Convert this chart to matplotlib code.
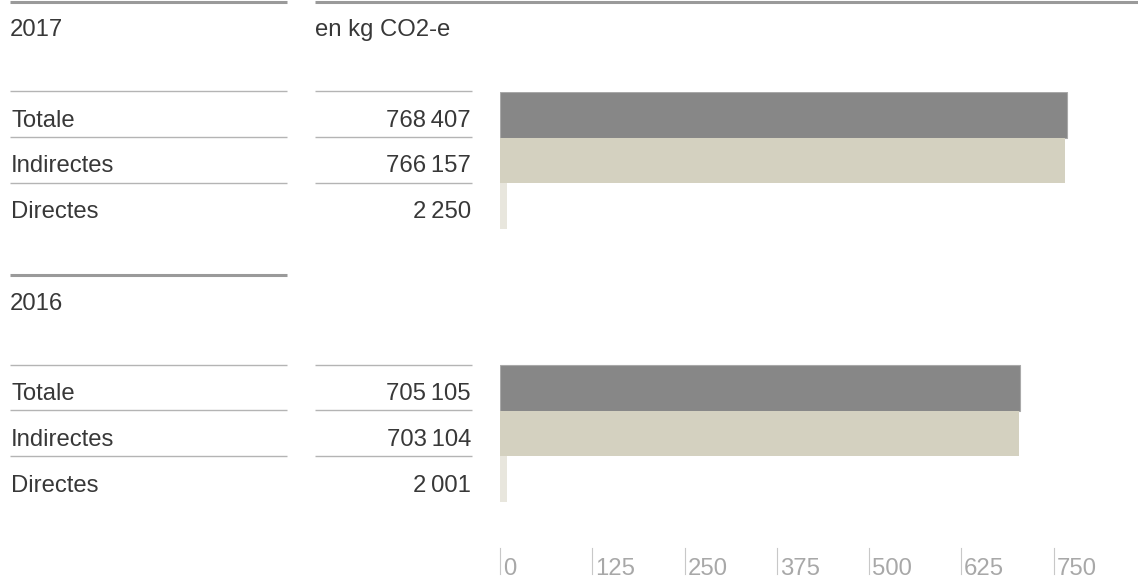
import numpy as np
import matplotlib.pyplot as plt
from matplotlib.lines import Line2D
from matplotlib.transforms import blended_transform_factory

plt.rcParams['font.family'] = ['Liberation Sans', 'DejaVu Sans']

# data (kg CO2-e)
years = ["2017", "2016"]
categories = ["Totale", "Indirectes", "Directes"]
values_2017 = [768407, 766157, 2250]
values_2016 = [705105, 703104, 2001]
unit_label = "en kg CO2-e"
x_ticks = [0, 125, 250, 375, 500, 625, 750]

bar_colors = ["#878787", "#d4d1c0", "#e8e6dd"]
text_color = "#383838"
line_color = "#b4b4b4"
head_color = "#9a9a9a"
tick_color = "#a8a8a8"
fs = 17.2

W, H = 1138, 583
fig = plt.figure(figsize=(W / 100, H / 100), dpi=100)


def fx(px):
    return px / W


def fy(py):
    return 1 - py / H


def hline(x0, x1, y, color, lw):
    fig.add_artist(Line2D([fx(x0), fx(x1)], [fy(y), fy(y)], color=color,
                          lw=lw, solid_capstyle="butt"))


# bar area: x=0 at 500px, 0.738 px per thousand
ax = fig.add_axes([fx(500), fy(502), fx(638), 410 / H])
ax.set_xlim(0, 638 / 0.738)
ax.set_ylim(8.5, -0.5)
ax.axis("off")

groups = [values_2017, values_2016]
row_pos = [np.arange(3), np.arange(3) + 6]
for vals, pos in zip(groups, row_pos):
    shown = np.maximum(np.array(vals) / 1000, 9.5)  # min visible width
    ax.barh(pos, shown, height=1.0, color=bar_colors,
            edgecolor=["#a9a9a9", "none", "none"], linewidth=0.8)

# axis ticks below the bars
trans = blended_transform_factory(ax.transData, fig.transFigure)
for t in x_ticks:
    ax.add_line(Line2D([t, t], [fy(548), fy(574)], transform=trans,
                       color="#c8c8c8", lw=0.8, clip_on=False))
    ax.text(t + 4, fy(575), str(t), transform=trans, ha="left",
            va="baseline", fontsize=fs, color=tick_color)

# table part on the left
offsets = [0, 273.5]
for g, (year, vals) in enumerate(zip(years, groups)):
    off = offsets[g]
    hline(10, 287, 1.5 + off, head_color, 2.2)
    if g == 0:
        hline(315, W, 1.5, head_color, 2.2)
        fig.text(fx(315), fy(36), unit_label, fontsize=fs, color=text_color,
                 va="baseline", ha="left")
    fig.text(fx(10), fy(36 + off), year, fontsize=fs, color=text_color,
             va="baseline", ha="left")
    for i, (cat, v) in enumerate(zip(categories, vals)):
        y_line = 91 + off + i * 45.8
        hline(10, 287, y_line, line_color, 1.0)
        hline(315, 472, y_line, line_color, 1.0)
        label = f"{v:,}".replace(",", "\u2009")
        fig.text(fx(11), fy(y_line + 35.5), cat, fontsize=fs,
                 color=text_color, va="baseline", ha="left")
        fig.text(fx(471), fy(y_line + 35.5), label, fontsize=fs,
                 color=text_color, va="baseline", ha="right")

fig.savefig("out.png", dpi=100, facecolor="white")
